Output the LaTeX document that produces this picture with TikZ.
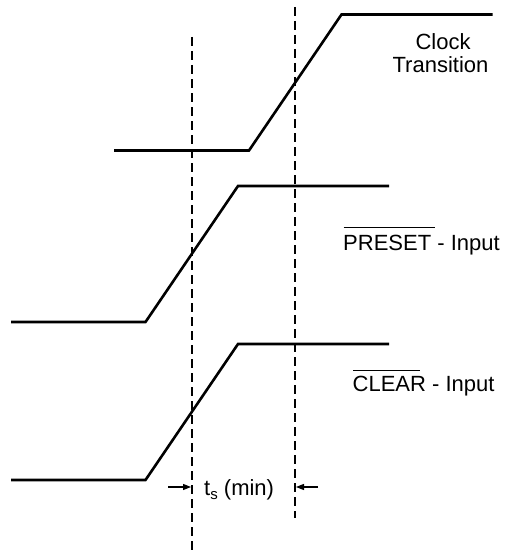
\documentclass[tikz,border=0pt]{standalone}
\usepackage{fontspec}
\setmainfont{Liberation Sans}
\usetikzlibrary{arrows.meta}
\begin{document}
\begin{tikzpicture}[x=1pt,y=-1pt,
  signal/.style={line width=2.6pt,line join=miter},
  guide/.style={line width=1.2pt,dash pattern=on 9pt off 5pt},
  dimarrow/.style={line width=1.2pt,-{Triangle[length=8pt,width=6pt]}},
  lbl/.style={inner sep=0pt,font=\fontsize{22}{25}\selectfont}]
\useasboundingbox (0,0) rectangle (504,551);
% dashed reference lines
\coordinate (g1t) at (192,37);
\coordinate (g1b) at (192,551);
\coordinate (g2t) at (295,7);
\coordinate (g2b) at (295,518);
\draw[guide] (g1t) -- (g1b);
\draw[guide] (g2t) -- (g2b);
% clock
\draw[signal] (114,150.5) -- (249,150.5) -- (341.5,14.5) -- (492.5,14.5);
% preset
\draw[signal] (11,322) -- (145.5,322) -- (238,186) -- (389,186);
% clear
\draw[signal] (11,480) -- (145.5,480) -- (238,344) -- (389,344);
% labels
\node[lbl,anchor=base] (clk) at (443,50) {Clock};
\node[lbl,anchor=base] (trn) at (440.5,72) {Transition};
\node[lbl,anchor=base west] (pre) at (343,250) {PRESET - Input};
\draw[line width=0.9pt] (343.5,227) -- (435,227);
\node[lbl,anchor=base west] (clr) at (352.5,391.5) {CLEAR - Input};
\draw[line width=0.9pt] (353,370) -- (420,370);
\node[lbl,anchor=base west] (ts) at (204,495.5) {t\raisebox{-4pt}{\fontsize{15}{15}\selectfont s} (min)};
% dimension arrows
\coordinate (a1s) at (168,487);
\coordinate (a1e) at (191,487);
\coordinate (a2s) at (318,487);
\coordinate (a2e) at (296,487);
\draw[dimarrow] (a1s) -- (a1e);
\draw[dimarrow] (a2s) -- (a2e);
\end{tikzpicture}
\end{document}
